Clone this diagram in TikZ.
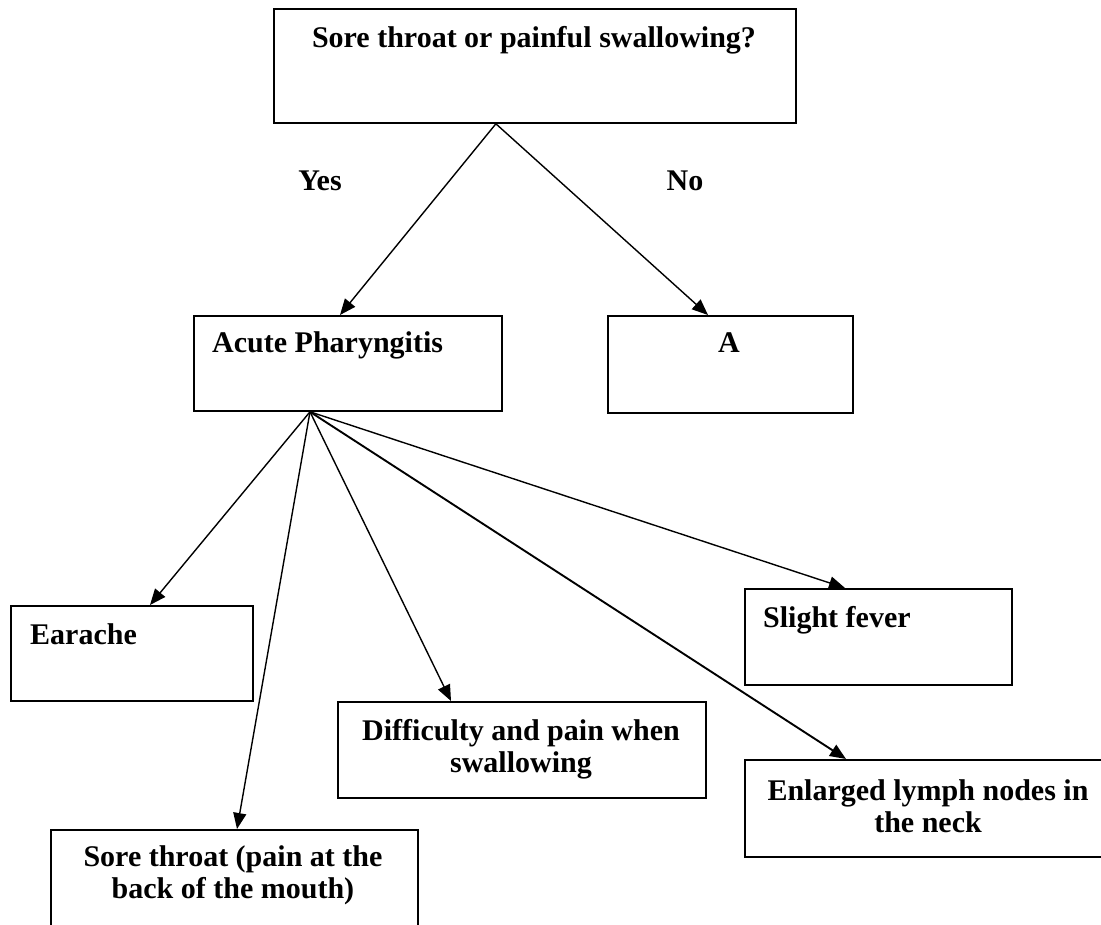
\documentclass[tikz,border=0pt]{standalone}
\usepackage{fontspec}
\setmainfont{Liberation Serif}
\usetikzlibrary{arrows.meta}

\tikzset{
  box/.style={draw, line width=1.8pt, rectangle, inner sep=0pt, anchor=north west},
  txt/.style={font=\fontsize{30}{32}\selectfont\bfseries, inner sep=0pt, align=center},
  arr/.style={line width=1.4pt, -{Triangle[length=16pt,width=13pt]}},
}

\begin{document}
\begin{tikzpicture}[x=1pt, y=-1pt]
  \useasboundingbox (0,0) rectangle (1101,925);
  \clip (0,0) rectangle (1101,925);

  % boxes
  \node[box, minimum width=522pt, minimum height=114pt] (top)     at (273,8)   {};
  \node[box, minimum width=308pt, minimum height=95pt]  (acute)   at (193,315) {};
  \node[box, minimum width=245pt, minimum height=97pt]  (other)   at (607,315) {};
  \node[box, minimum width=242pt, minimum height=95pt]  (earache) at (10,605)  {};
  \node[box, minimum width=367pt, minimum height=131pt] (sore)    at (50,829)  {};
  \node[box, minimum width=368pt, minimum height=96pt]  (diff)    at (337,701) {};
  \node[box, minimum width=267pt, minimum height=96pt]  (fever)   at (744,588) {};
  \node[box, minimum width=368pt, minimum height=97pt]  (lymph)   at (744,759) {};

  % texts (two-line texts are placed by the baseline of their last line)
  \node[txt, anchor=base]      (topT)     at (534,48)  {Sore throat or painful swallowing?};
  \node[txt, anchor=base west] (acuteT)   at (212,353) {Acute Pharyngitis};
  \node[txt, anchor=base]      (otherT)   at (729,353) {A};
  \node[txt, anchor=base west] (earacheT) at (30,644)  {Earache};
  \node[txt, anchor=base west] (feverT)   at (763,627) {Slight fever};
  \node[txt, anchor=base]      (diffT)    at (521,772) {Difficulty and pain when\\swallowing};
  \node[txt, anchor=base]      (lymphT)   at (928,832) {Enlarged lymph nodes in\\the neck};
  \node[txt, anchor=base]      (soreT)    at (233,898) {Sore throat (pain at the\\back of the mouth)};
  \node[txt, anchor=base]      (yes)      at (320,191) {Yes};
  \node[txt, anchor=base]      (no)       at (685,191) {No};

  % branch points
  \coordinate (apex) at ([xshift=-39pt]top.south);
  \coordinate (hub)  at ([xshift=117pt]acute.south west);

  % connectors
  \draw[arr] (apex) -- ([xshift=147pt]acute.north west);
  \draw[arr] (apex) -- ([xshift=101pt]other.north west);
  \draw[arr] (hub) -- ([xshift=140pt]earache.north west);
  \draw[arr] (hub) -- ([xshift=187pt]sore.north west);
  \draw[arr] (hub) -- ([xshift=114pt]diff.north west);
  \draw[arr, line width=1.9pt] (hub) -- ([xshift=102pt]lymph.north west);
  \draw[arr] (hub) -- ([xshift=101pt]fever.north west);
\end{tikzpicture}
\end{document}
